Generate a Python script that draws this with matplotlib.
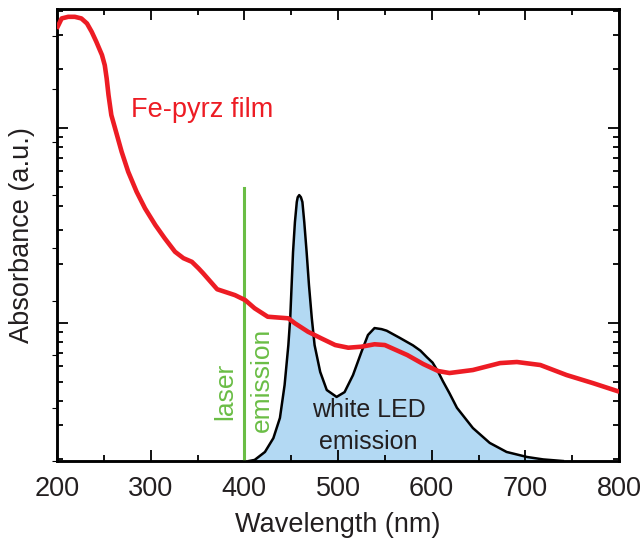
import matplotlib
matplotlib.use("Agg")
import matplotlib.pyplot as plt
from matplotlib.ticker import MultipleLocator, LogLocator, NullFormatter

# Absorbance of Fe-pyrz film (log scale, a.u.)
abs_wl = [200.7, 205, 212, 219, 226, 232, 237, 242, 248, 251, 253, 255, 258, 264,
          269, 276, 285, 294, 305, 315, 326, 335, 344, 351, 356, 371, 390, 401,
          411, 425, 447, 454, 468, 482, 497, 511, 525, 539, 550, 574, 591, 607,
          619, 644, 673, 691, 716, 744, 772, 798]
abs_val = [3.31, 3.65, 3.72, 3.72, 3.65, 3.44, 3.12, 2.77, 2.37, 2.10, 1.80, 1.476,
           1.166, 0.921, 0.756, 0.597, 0.471, 0.387, 0.318, 0.272, 0.232, 0.215,
           0.206, 0.191, 0.180, 0.149, 0.139, 0.131, 0.119, 0.1077, 0.1057, 0.0997,
           0.0902, 0.0835, 0.0771, 0.0747, 0.0756, 0.0778, 0.0771, 0.0685, 0.0616,
           0.0567, 0.0554, 0.0574, 0.0623, 0.0631, 0.0609, 0.0541, 0.0492, 0.0448]

# White LED emission (normalised intensity)
led_wl = [405, 411, 422, 431, 438, 443, 447, 449, 450.5, 452, 454, 456, 457, 458.6,
          460.4, 462, 464, 466.5, 469, 472, 475, 481, 488, 498.5, 507, 516, 525, 532,
          539, 546.5, 552, 566, 580, 588, 595, 601, 607, 612, 619, 627, 644, 662, 680,
          702, 719, 740]
led_val = [0.0, 0.004, 0.034, 0.086, 0.162, 0.286, 0.436, 0.538, 0.662, 0.786, 0.898,
           0.974, 0.992, 1.0, 0.992, 0.974, 0.898, 0.786, 0.662, 0.538, 0.436, 0.335,
           0.267, 0.241, 0.259, 0.323, 0.41, 0.474, 0.50, 0.496, 0.49, 0.463, 0.435,
           0.415, 0.39, 0.37, 0.335, 0.30, 0.255, 0.20, 0.124, 0.068, 0.034, 0.015,
           0.006, 0.0]

laser_wl = 400
laser_top = 0.49

plt.rcParams['font.family'] = ['Liberation Sans', 'DejaVu Sans']
txt = '#231f20'
red = '#ed1c24'
green = '#6abd45'
blue = '#b3d9f3'

fig = plt.figure(figsize=(6.43, 5.40), dpi=100)
ax = fig.add_axes([57/643, 79/540, 562/643, 452/540])
ax.set_xlim(200, 800)
ax.set_ylim(0, 1.70)

ax.fill_between(led_wl, 0, led_val, color=blue, lw=0, zorder=1)
ax.plot(led_wl, led_val, color='black', lw=1.8, zorder=2, solid_joinstyle='round')

ax.xaxis.set_major_locator(MultipleLocator(100))
ax.xaxis.set_minor_locator(MultipleLocator(50))
ax.tick_params(axis='x', which='both', direction='in', top=True, bottom=True,
               labelsize=19.5, colors='black', labelcolor=txt, pad=11)
ax.tick_params(axis='x', which='major', length=8, width=1.3)
ax.tick_params(axis='x', which='minor', length=4, width=1.3)
ax.tick_params(axis='y', which='both', left=False, right=False, labelleft=False)
ax.set_xlabel('Wavelength (nm)', fontsize=19.5, color=txt, labelpad=7)
ax.set_ylabel('Absorbance (a.u.)', fontsize=19.5, color=txt, labelpad=12)
for s in ax.spines.values():
    s.set_linewidth(1.8)

ax2 = ax.twinx()
ax2.set_yscale('log')
ax2.set_ylim(0.0196, 4.08)
ax2.set_xlim(200, 800)
ax2.plot([laser_wl, laser_wl], [0.0196, laser_top], color=green, lw=2.2, zorder=2)
ax2.plot(abs_wl, abs_val, color=red, lw=3.3, zorder=3, solid_joinstyle='round')
ax2.yaxis.set_major_locator(LogLocator(base=10))
ax2.yaxis.set_minor_locator(LogLocator(base=10, subs=range(2, 10)))
ax2.yaxis.set_major_formatter(NullFormatter())
ax2.yaxis.set_minor_formatter(NullFormatter())
ax2.yaxis.set_ticks_position('both')
ax2.tick_params(axis='y', which='both', direction='in', left=True, right=True,
                labelleft=False, labelright=False)
ax2.tick_params(axis='y', which='major', length=8, width=1.3)
ax2.tick_params(axis='y', which='minor', length=4, width=1.3)
for s in ax2.spines.values():
    s.set_linewidth(1.8)

ax2.text(279, 1.139, 'Fe-pyrz film', color=red, fontsize=19.5, ha='left',
         va='baseline')


def fx(px):
    return (px - 57) / 562


def fy(py):
    return (461 - py) / 452


ax.text(fx(225), fy(391), 'laser', color=green, fontsize=19, rotation=90,
        ha='center', va='center', transform=ax.transAxes)
ax.text(fx(262), fy(380), 'emission', color=green, fontsize=19, rotation=90,
        ha='center', va='center', transform=ax.transAxes)
ax.text(fx(369), fy(410), 'white LED', color=txt, fontsize=18, ha='center',
        va='center', transform=ax.transAxes, zorder=5)
ax.text(fx(368), fy(442), 'emission', color=txt, fontsize=18, ha='center',
        va='center', transform=ax.transAxes, zorder=5)

fig.savefig('out.png', dpi=100)
